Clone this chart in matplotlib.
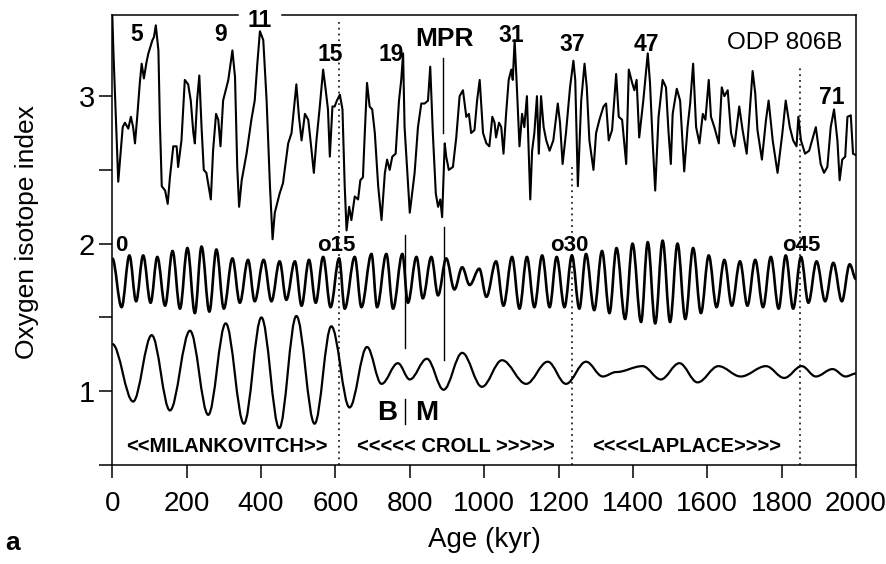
import matplotlib
matplotlib.use("Agg")
import matplotlib.pyplot as plt
from matplotlib.path import Path
from matplotlib.patches import PathPatch

plt.rcParams['font.family'] = ['Liberation Sans', 'DejaVu Sans']

# ODP 806B oxygen isotope record
top_age = [0, 3, 16, 28, 34, 43, 50, 56, 61, 67,
           74, 79, 85, 92, 97, 103, 108, 112, 117, 124,
           128, 133, 142, 149, 155, 164, 173, 177, 186, 195,
           204, 211, 218, 222, 228, 234, 240, 246, 253, 265,
           271, 279, 285, 291, 298, 305, 312, 323, 330, 336,
           341, 348, 361, 374, 383, 390, 397, 406, 415, 424,
           431, 437, 450, 459, 473, 482, 495,
           502, 509, 518, 527, 533, 542, 549, 558, 567, 574,
           580, 585, 592, 598, 604, 612, 619, 625, 630, 637,
           643, 652, 661, 667, 674, 679, 685, 692, 699, 706,
           715, 724, 733, 739, 746, 753, 762, 771, 777, 782,
           786, 800, 813, 822, 831, 840, 849, 855, 862, 870,
           876, 882, 887, 894, 898, 905, 916, 925, 934, 943,
           952, 959, 965, 974, 981, 988,
           997, 1006, 1014, 1022, 1028, 1032, 1040, 1046, 1052, 1059,
           1066, 1073, 1077, 1082, 1088, 1095, 1102, 1108, 1115, 1124,
           1129, 1135, 1142, 1147, 1153, 1160, 1167, 1176, 1186, 1198,
           1204, 1211, 1220, 1231, 1240, 1245, 1252, 1261, 1270, 1276,
           1283, 1294, 1301, 1310, 1321, 1328, 1335, 1344, 1355, 1362,
           1371, 1382, 1389, 1398, 1404, 1410, 1417, 1428, 1440, 1446,
           1453, 1460, 1469, 1480, 1489, 1496, 1502,
           1507, 1518, 1527, 1538, 1547, 1554, 1562, 1570, 1579, 1588,
           1595, 1604, 1610, 1619, 1631, 1639, 1646, 1655, 1664, 1673,
           1686, 1695, 1706, 1722, 1729, 1735, 1747, 1758, 1765, 1776,
           1789, 1802, 1811, 1822, 1831, 1840, 1845, 1852, 1863, 1874,
           1892, 1905, 1914, 1923, 1932, 1941, 1950, 1956, 1963, 1971,
           1977, 1986, 1992, 2000]
top_val = [3.55, 3.30, 2.42, 2.79, 2.82, 2.78, 2.86, 2.79, 2.68, 2.86,
           3.09, 3.22, 3.12, 3.23, 3.29, 3.34, 3.38, 3.40, 3.48, 3.31,
           2.82, 2.39, 2.36, 2.27, 2.45, 2.66, 2.66, 2.52, 2.70, 3.11,
           3.08, 2.97, 2.75, 2.68, 2.97, 3.14, 2.79, 2.50, 2.48, 2.30,
           2.63, 2.88, 2.84, 2.66, 2.97, 3.04, 3.11, 3.31, 3.13, 2.52,
           2.25, 2.43, 2.61, 2.84, 2.97, 3.22, 3.44, 3.38, 2.97, 2.39,
           2.03, 2.21, 2.34, 2.41, 2.68, 2.75, 3.08,
           2.86, 2.70, 2.88, 2.84, 2.70, 2.48, 2.70, 2.93, 3.18, 3.04,
           2.91, 2.59, 2.93, 2.93, 2.97, 3.01, 2.91, 2.39, 2.09, 2.25,
           2.16, 2.32, 2.30, 2.43, 2.45, 2.75, 3.09, 2.93, 2.91, 2.75,
           2.39, 2.16, 2.48, 2.57, 2.50, 2.59, 2.61, 2.97, 3.11, 3.29,
           2.79, 2.21, 2.48, 2.79, 2.95, 2.95, 2.97, 3.20, 2.75, 2.34,
           2.25, 2.30, 2.18, 2.68, 2.59, 2.50, 2.52, 2.72, 3.00, 3.04,
           2.86, 2.88, 2.75, 2.77, 2.97, 3.11,
           2.75, 2.68, 2.66, 2.86, 2.82, 2.72, 2.82, 2.79, 2.61, 2.88,
           3.11, 3.18, 3.11, 3.38, 3.06, 2.66, 2.88, 2.79, 3.00, 2.30,
           2.63, 2.75, 3.00, 2.61, 3.00, 2.79, 2.70, 2.63, 2.70, 2.95,
           2.82, 2.54, 2.75, 3.06, 3.24, 3.11, 2.39, 2.97, 3.22, 3.06,
           2.70, 2.50, 2.75, 2.84, 2.93, 2.95, 2.70, 2.77, 3.15, 2.86,
           2.84, 2.54, 3.18, 3.09, 3.04, 3.11, 2.72, 2.97, 3.29, 3.09,
           2.70, 2.36, 2.86, 3.11, 3.06, 2.75, 2.54,
           2.88, 3.05, 2.97, 2.49, 2.79, 2.95, 3.22, 2.79, 2.68, 2.88,
           2.84, 3.11, 2.86, 2.79, 2.68, 3.06, 3.00, 3.04, 2.75, 2.66,
           2.93, 2.77, 2.61, 3.17, 3.02, 2.77, 2.57, 2.84, 2.97, 2.70,
           2.48, 2.75, 2.97, 2.79, 2.70, 2.66, 2.86, 2.70, 2.61, 2.63,
           2.79, 2.54, 2.48, 2.52, 2.79, 2.91, 2.70, 2.43, 2.57, 2.59,
           2.86, 2.87, 2.61, 2.60]

# obliquity-band curve: turning points
mid_age = [0, 25, 46, 64, 83, 103, 121, 142, 162, 182,
           202, 222, 240, 261, 280, 300, 323, 343, 365, 383,
           407, 428, 450, 468, 491, 509, 529, 547, 567, 587,
           610, 625, 652, 670, 697, 712, 737, 755, 780, 795,
           818, 835, 858, 876, 898, 920, 941, 961, 987, 1006,
           1032, 1052, 1075, 1095, 1115, 1135, 1156, 1176, 1195, 1216,
           1236, 1256, 1274, 1296, 1317, 1337, 1356, 1379, 1399, 1422,
           1440, 1460, 1480, 1500, 1520, 1541, 1562, 1583, 1604, 1625,
           1646, 1666, 1688, 1708, 1729, 1750, 1771, 1792, 1811, 1831,
           1852, 1872, 1894, 1917, 1939, 1962, 1983, 2000]
mid_val = [1.90, 1.57, 1.92, 1.61, 1.92, 1.60, 1.91, 1.58, 1.95, 1.56,
           1.97, 1.53, 1.98, 1.54, 1.96, 1.56, 1.90, 1.60, 1.89, 1.61,
           1.89, 1.61, 1.88, 1.62, 1.88, 1.58, 1.89, 1.60, 1.91, 1.57,
           1.90, 1.56, 1.91, 1.57, 1.93, 1.57, 1.93, 1.56, 1.93, 1.60,
           1.91, 1.63, 1.91, 1.65, 1.90, 1.69, 1.84, 1.72, 1.83, 1.64,
           1.88, 1.58, 1.91, 1.56, 1.91, 1.57, 1.92, 1.57, 1.91, 1.57,
           1.92, 1.56, 1.93, 1.55, 1.95, 1.53, 1.97, 1.49, 2.00, 1.47,
           2.01, 1.46, 2.02, 1.47, 2.00, 1.49, 1.97, 1.53, 1.92, 1.57,
           1.89, 1.58, 1.88, 1.58, 1.89, 1.57, 1.91, 1.56, 1.92, 1.56,
           1.91, 1.60, 1.88, 1.61, 1.87, 1.61, 1.86, 1.76]

# eccentricity-band curve: turning points
low_age = [0, 56, 106, 155, 209, 258, 305, 354, 401, 449,
           495, 544, 589, 638, 685, 724, 768, 800, 846, 891,
           941, 994, 1048, 1113, 1171, 1220, 1274, 1319, 1355, 1426,
           1475, 1525, 1574, 1630, 1690, 1758, 1807, 1854, 1892, 1937,
           1972, 2000]
low_val = [1.32, 0.93, 1.38, 0.87, 1.41, 0.84, 1.46, 0.78, 1.50, 0.75,
           1.51, 0.78, 1.44, 0.89, 1.30, 1.05, 1.19, 1.08, 1.22, 1.01,
           1.26, 1.03, 1.21, 1.05, 1.20, 1.05, 1.20, 1.10, 1.13, 1.17,
           1.08, 1.19, 1.06, 1.17, 1.10, 1.17, 1.09, 1.17, 1.10, 1.15,
           1.10, 1.12]

xticks = [0, 200, 400, 600, 800, 1000, 1200, 1400, 1600, 1800, 2000]


def smooth_path(xs, ys):
    # cubic segments with flat tangents at each turning point
    verts = [(xs[0], ys[0])]
    codes = [Path.MOVETO]
    for i in range(len(xs) - 1):
        dx = xs[i + 1] - xs[i]
        verts += [(xs[i] + 0.36 * dx, ys[i]),
                  (xs[i + 1] - 0.36 * dx, ys[i + 1]),
                  (xs[i + 1], ys[i + 1])]
        codes += [Path.CURVE4] * 3
    return Path(verts, codes)


fig = plt.figure(figsize=(8.87, 5.64), dpi=100)
ax = fig.add_axes([112.3 / 887, 1 - 465 / 564, 743.7 / 887, 450 / 564])

ax.plot(top_age, top_val, color='black', lw=1.5, solid_joinstyle='round')
ax.add_patch(PathPatch(smooth_path(mid_age, mid_val), facecolor='none',
                       edgecolor='black', lw=1.9))
ax.add_patch(PathPatch(smooth_path(low_age, low_val), facecolor='none',
                       edgecolor='black', lw=1.6))

dots = (0, (1.2, 2.6))
ax.plot([610, 610], [0.5, 3.5], color='black', lw=1.1, linestyle=dots)
ax.plot([1236, 1236], [0.5, 2.55], color='black', lw=1.1, linestyle=dots)
ax.plot([1850, 1850], [0.5, 3.21], color='black', lw=1.1, linestyle=dots)
ax.plot([889, 889], [2.75, 3.26], color='black', lw=1.0)
ax.plot([891, 891], [1.21, 2.11], color='black', lw=1.0)
ax.plot([787, 787], [1.29, 2.06], color='black', lw=1.0)
ax.plot([788, 788], [0.78, 0.95], color='black', lw=1.0)

bold = dict(ha='center', va='center', fontweight='bold')
for lab, x, y in [('5', 66, 3.42), ('9', 292, 3.42), ('11', 397, 3.516),
                  ('15', 585, 3.28), ('19', 751, 3.28), ('31', 1073, 3.41),
                  ('37', 1237, 3.35), ('47', 1436, 3.35), ('71', 1936, 2.99)]:
    ax.text(x, y, lab, fontsize=16.5, **bold)
ax.text(893, 3.387, 'MPR', fontsize=19, **bold)
ax.text(1807, 3.36, 'ODP 806B', fontsize=17.5, ha='center', va='center')
for lab, x in [('0', 23), ('o15', 603), ('o30', 1229), ('o45', 1852)]:
    ax.text(x, 1.99, lab, fontsize=16, **bold)
ax.text(738, 0.852, 'B', fontsize=20, **bold)
ax.text(845, 0.852, 'M', fontsize=20, **bold)
ax.text(308, 0.628, '<<MILANKOVITCH>>', fontsize=14.5, **bold)
ax.text(923, 0.628, '<<<<< CROLL >>>>>', fontsize=14.5, **bold)
ax.text(1544, 0.628, '<<<<LAPLACE>>>>', fontsize=14.5, **bold)

ax.set_xlim(0, 2000)
ax.set_ylim(0.5, 3.55)
ax.set_xticks(xticks)
ax.set_yticks([0.5, 1, 1.5, 2, 2.5, 3], ['', '1', '', '2', '', '3'])
ax.tick_params(direction='out', length=9.5, width=1.1, color='black')
ax.tick_params(axis='x', labelsize=20, pad=9)
ax.tick_params(axis='y', labelsize=21, pad=3)

for s in ['left', 'right', 'bottom']:
    ax.spines[s].set_linewidth(1.1)
ax.spines['top'].set_visible(False)
# top frame is broken where the "11" label sits
tr = ax.get_xaxis_transform()
ax.plot([0, 338], [1, 1], color='black', lw=1.1, transform=tr, clip_on=False)
ax.plot([456, 2000], [1, 1], color='black', lw=1.1, transform=tr, clip_on=False)

fig.text(27 / 887, 1 - 232 / 564, 'Oxygen isotope index', rotation=90,
         ha='center', va='center', fontsize=19)
fig.text(484 / 887, 1 - 540 / 564, 'Age (kyr)', ha='center', va='center',
         fontsize=20)
fig.text(13 / 887, 1 - 543 / 564, 'a', ha='center', va='center',
         fontsize=19, fontweight='bold')

fig.savefig('out.png', dpi=100)
